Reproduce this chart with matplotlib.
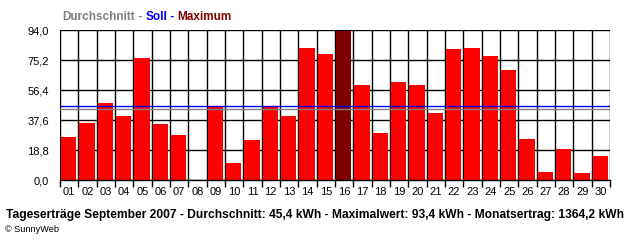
import matplotlib
matplotlib.use("Agg")
import matplotlib.pyplot as plt
import numpy as np

days = ["%02d" % i for i in range(1, 31)]
values = [26.9, 35.7, 48.2, 40.3, 76.6, 35.3, 28.4, 0.0, 46.6, 10.8,
          25.3, 45.9, 40.3, 82.9, 79.1, 93.4, 59.7, 29.6, 61.6, 59.7,
          42.2, 82.2, 82.9, 77.9, 69.1, 25.8, 5.2, 19.6, 4.6, 15.2]
average_line = 44.5
target_line = 46.1
yticks = [0.0, 18.8, 37.6, 56.4, 75.2, 94.0]
ytick_labels = ["0,0", "18,8", "37,6", "56,4", "75,2", "94,0"]

plt.rcParams['font.family'] = ['Liberation Sans', 'DejaVu Sans']

fig = plt.figure(figsize=(6.4, 2.4), dpi=100)
ax = fig.add_axes([60/640, 60/240, 550/640, 150/240])

x = np.arange(len(days))
maxv = max(values)
colors = ['#800000' if v == maxv else '#ff0000' for v in values]
ax.bar(x - 0.03, values, width=0.84, color=colors, zorder=2, align='center')

ax.set_xlim(-0.5, len(days) - 0.5)
ax.set_ylim(0, 94.0)

for b in np.arange(-0.5, len(days), 1.0):
    ax.axvline(b, color='black', lw=1.0, zorder=1)
for t in yticks:
    ax.axhline(t, color='black', lw=1.0, zorder=1)

ax.axhline(target_line, color='#0000dd', lw=1.0, zorder=3)
ax.axhline(average_line, color='#808080', lw=1.0, zorder=3)

ax.set_yticks(yticks)
ax.set_yticklabels(ytick_labels, fontsize=8)
ax.set_xticks(np.arange(-0.5, len(days), 1.0), minor=False)
ax.set_xticklabels([])
ax.set_xticks(x, minor=True)
ax.set_xticklabels(days, minor=True, fontsize=8)
ax.tick_params(axis='x', which='major', length=5, width=1.0, color='black')
ax.tick_params(axis='x', which='minor', length=0, pad=5)
ax.tick_params(axis='y', length=0, pad=8)
for s in ax.spines.values():
    s.set_visible(False)
ax.spines['bottom'].set_visible(True)
ax.spines['bottom'].set_linewidth(1.0)

# header
fs = 8.5
t1 = fig.text(62/640, 1 - 17/240, "Durchschnitt", color='#808080', fontsize=fs, fontweight='bold', va='center')
fig.canvas.draw()
r = fig.canvas.get_renderer()
def after(t, s, c):
    bb = t.get_window_extent(renderer=r)
    return fig.text(bb.x1/640, 1 - 17/240, s, color=c, fontsize=fs, fontweight='bold', va='center')
t2 = after(t1, " - ", '#808080')
t3 = after(t2, "Soll", '#0000ff')
t4 = after(t3, " - ", '#0000ff')
t5 = after(t4, "Maximum", '#800000')

fig.text(6/640, 1 - 215/240,
         "Tageserträge September 2007 - Durchschnitt: 45,4 kWh - Maximalwert: 93,4 kWh - Monatsertrag: 1364,2 kWh",
         fontsize=8.65, fontweight='bold', va='center', color='black')
fig.text(5/640, 1 - 229/240, "© SunnyWeb", fontsize=6.6, va='center', color='black')

fig.savefig("out.png", dpi=100)
